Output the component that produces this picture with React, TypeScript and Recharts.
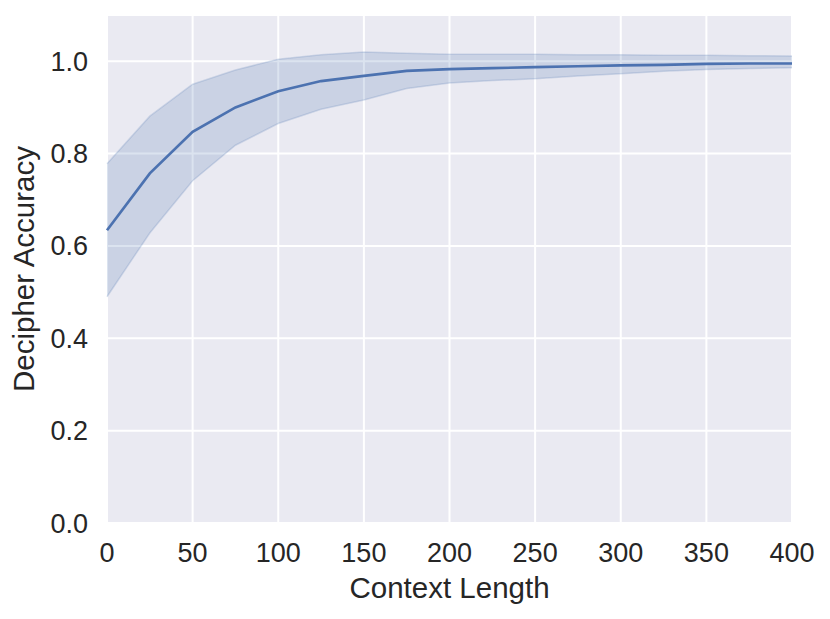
import { ComposedChart, Area, Line, XAxis, YAxis, CartesianGrid } from 'recharts';

// context length sampled every 25 tokens
const contextLength = [0, 25, 50, 75, 100, 125, 150, 175, 200, 225, 250, 275, 300, 325, 350, 375, 400];
const meanAccuracy = [0.634, 0.757, 0.847, 0.9, 0.935, 0.957, 0.968, 0.979, 0.983, 0.985, 0.987, 0.989, 0.991, 0.992, 0.994, 0.995, 0.995];
const upperBound = [0.778, 0.881, 0.95, 0.981, 1.004, 1.014, 1.02, 1.017, 1.015, 1.015, 1.015, 1.014, 1.014, 1.013, 1.013, 1.012, 1.011];
const lowerBound = [0.49, 0.628, 0.741, 0.818, 0.865, 0.896, 0.916, 0.941, 0.953, 0.958, 0.962, 0.968, 0.973, 0.978, 0.982, 0.984, 0.986];

const xTicks = [0, 50, 100, 150, 200, 250, 300, 350, 400];
const yTicks = [0, 0.2, 0.4, 0.6, 0.8, 1.0];

const BLUE = '#4C72B0';
const TEXT = '#262626';
const FONT = '"Liberation Sans", Arial, sans-serif';

const data = contextLength.map((x, i) => ({
  x,
  mean: meanAccuracy[i],
  band: [lowerBound[i], upperBound[i]],
}));

export default function App() {
  return (
    <div style={{ position: 'absolute', left: 0, top: 0, background: '#fff' }}>
      <ComposedChart
        width={830}
        height={619}
        data={data}
        margin={{ top: 15, right: 38, bottom: 0, left: 0 }}
        style={{ fontFamily: FONT }}
      >
        <CartesianGrid stroke="#fff" strokeWidth={2} fill="#EAEAF2" fillOpacity={1} />
        <XAxis
          dataKey="x"
          type="number"
          domain={[0, 400]}
          ticks={xTicks}
          height={96}
          axisLine={false}
          tickLine={false}
          tickSize={0}
          tickMargin={20}
          tick={{ fill: TEXT, fontSize: 27, fontFamily: FONT }}
          label={{
            content: (props: any) => {
              const vb = props.viewBox;
              return (
                <text x={vb.x + vb.width / 2} y={598} textAnchor="middle" fill={TEXT} fontSize={29.5} fontFamily={FONT}>
                  Context Length
                </text>
              );
            },
          }}
        />
        <YAxis
          type="number"
          domain={[0, 1.1]}
          ticks={yTicks}
          width={107}
          axisLine={false}
          tickLine={false}
          tickSize={0}
          tickMargin={19}
          tickFormatter={(v: number) => v.toFixed(1)}
          tick={{ fill: TEXT, fontSize: 27, fontFamily: FONT }}
          label={{
            content: (props: any) => {
              const vb = props.viewBox;
              const cy = vb.y + vb.height / 2;
              return (
                <text
                  x={34}
                  y={cy}
                  transform={`rotate(-90 34 ${cy})`}
                  textAnchor="middle"
                  fill={TEXT}
                  fontSize={29.5}
                  fontFamily={FONT}
                >
                  Decipher Accuracy
                </text>
              );
            },
          }}
        />
        <Area
          type="linear"
          dataKey="band"
          fill={BLUE}
          fillOpacity={0.2}
          stroke={BLUE}
          strokeOpacity={0.2}
          strokeWidth={1.5}
          isAnimationActive={false}
        />
        <Line
          type="linear"
          dataKey="mean"
          stroke={BLUE}
          strokeWidth={2.7}
          dot={false}
          isAnimationActive={false}
        />
      </ComposedChart>
    </div>
  );
}
